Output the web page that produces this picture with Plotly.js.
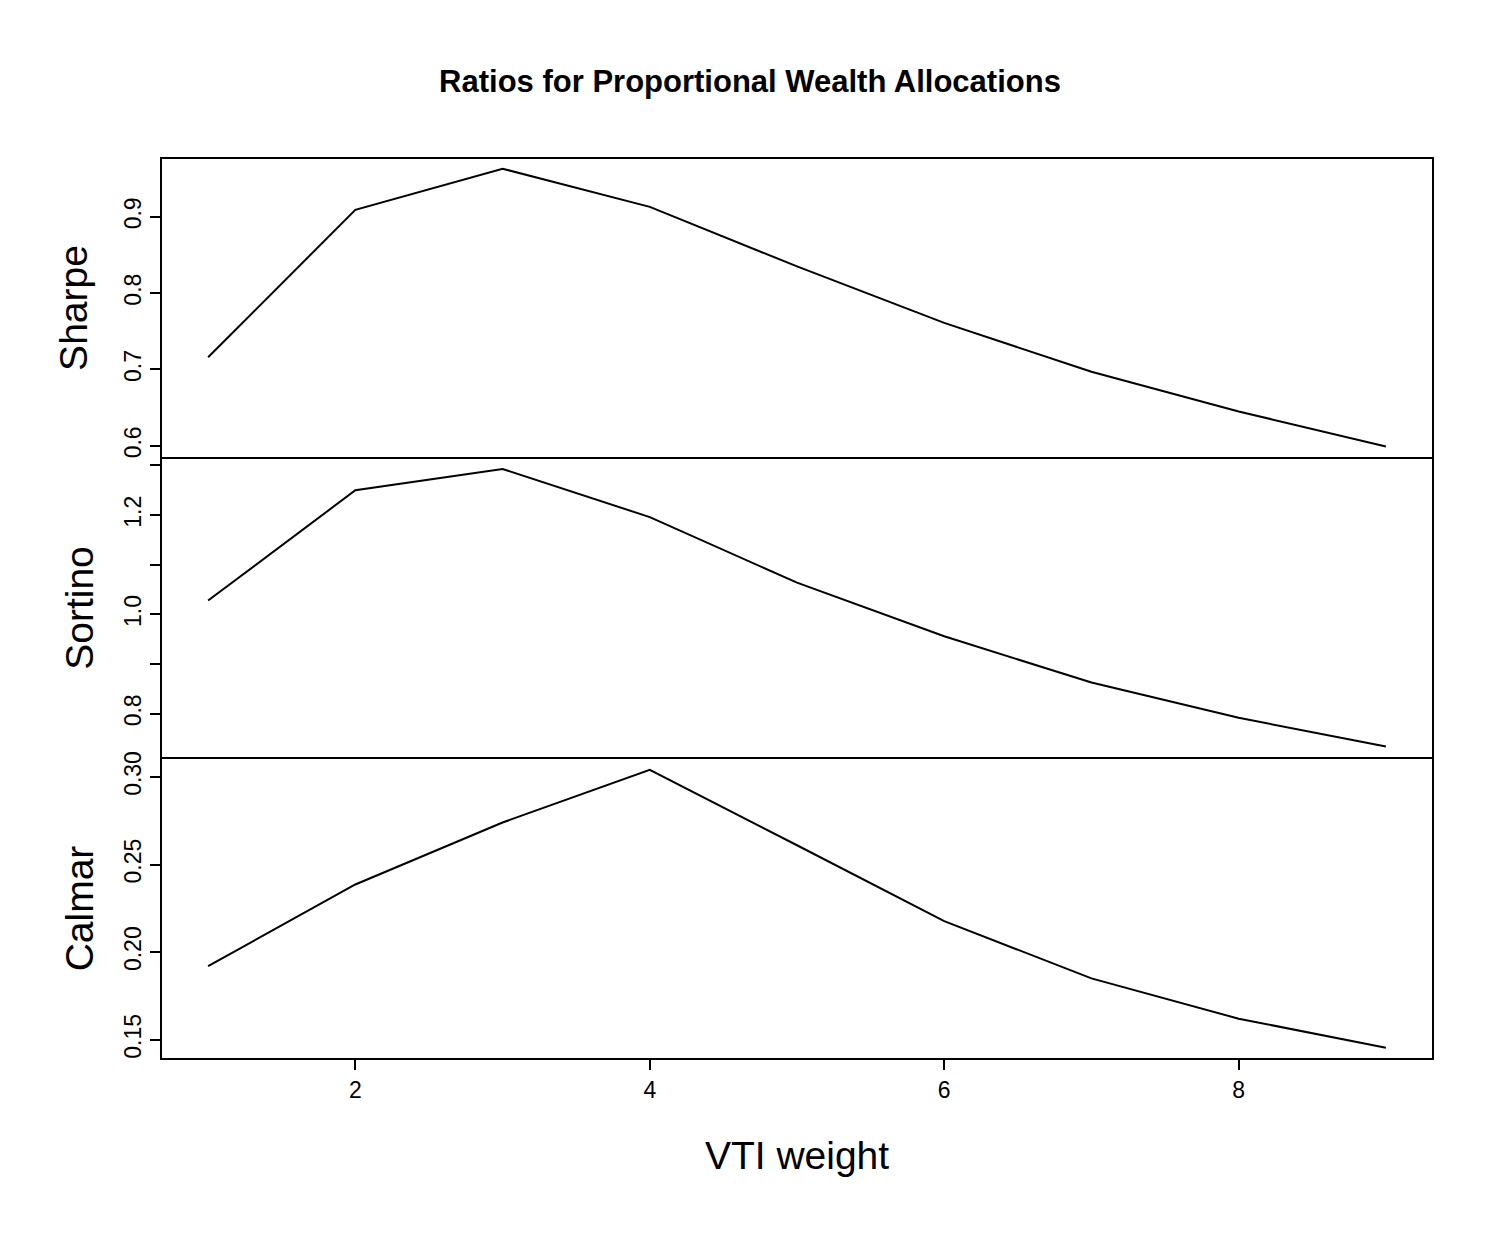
<!DOCTYPE html>
<html>
<head>
<script src="https://cdn.plot.ly/plotly-3.0.1.min.js"></script>
</head>
<body style="margin:0">
<div id="myDiv" style="width:1500px;height:1250px"></div>
<script>
var weights = [1, 2, 3, 4, 5, 6, 7, 8, 9];
var sharpe = [0.716, 0.909, 0.963, 0.913, 0.835, 0.761, 0.697, 0.645, 0.599];
var sortino = [1.028, 1.250, 1.293, 1.196, 1.064, 0.956, 0.863, 0.792, 0.734];
var calmar = [0.192, 0.2386, 0.274, 0.304, 0.261, 0.2177, 0.185, 0.162, 0.1454];

var line = {color: 'black', width: 2};
var data = [
  {x: weights, y: sharpe, yaxis: 'y', xaxis: 'x', mode: 'lines', line: line},
  {x: weights, y: sortino, yaxis: 'y2', xaxis: 'x', mode: 'lines', line: line},
  {x: weights, y: calmar, yaxis: 'y3', xaxis: 'x', mode: 'lines', line: line}
];

var fam = 'Liberation Sans, Arial';
var tickfont = {family: fam, size: 23, color: 'black'};
function yax(dom, range, dtick, title) {
  return {
    domain: dom, range: range, dtick: dtick, tick0: 0,
    ticks: 'outside', ticklen: 10, tickwidth: 1.5, tickcolor: 'black',
    tickangle: -90, tickfont: tickfont, showgrid: false, zeroline: false,
    showline: false, anchor: 'x',
    title: {text: title, font: {family: fam, size: 39, color: 'black'}, standoff: 14}
  };
}
var x0 = 161 / 1500, x1 = 1433 / 1500;
var d1 = [0.6336, 0.8736], d2 = [0.3936, 0.6336], d3 = [0.1528, 0.3936];
var layout = {
  width: 1500, height: 1250,
  margin: {l: 0, r: 0, t: 0, b: 0, autoexpand: false},
  paper_bgcolor: 'white', plot_bgcolor: 'white', showlegend: false,
  title: {text: '<b>Ratios for Proportional Wealth Allocations</b>', x: 0.5, xref: 'paper',
    y: 0.935, yref: 'paper', yanchor: 'middle',
    font: {family: fam, size: 31, color: 'black'}},
  xaxis: {
    domain: [x0, x1],
    range: [0.68, 9.32], dtick: 2, tick0: 0, ticks: 'outside', ticklen: 10, tickwidth: 1.5,
    tickcolor: 'black', tickfont: tickfont, showgrid: false, zeroline: false, anchor: 'y3',
    title: {text: 'VTI weight', font: {family: fam, size: 39, color: 'black'}, standoff: 40}
  },
  yaxis: yax(d1, [0.584, 0.977], 0.1, 'Sharpe'),
  yaxis2: yax(d2, [0.711, 1.315], 0.1, 'Sortino'),
  yaxis3: yax(d3, [0.139, 0.3108], 0.05, 'Calmar'),
  shapes: [d1, d2, d3].map(function (d) {
    return {type: 'rect', xref: 'paper', yref: 'paper', x0: x0, x1: x1, y0: d[0], y1: d[1],
      line: {color: 'black', width: 2}};
  })
};
layout.yaxis2.tickvals = [0.8, 0.9, 1.0, 1.1, 1.2, 1.3];
layout.yaxis2.ticktext = ['0.8', '', '1.0', '', '1.2', ''];
layout.yaxis3.tickformat = '.2f';
layout.yaxis.tickformat = '.1f';
layout.yaxis.title.standoff = 20;

Plotly.newPlot('myDiv', data, layout, {displayModeBar: false});
</script>
</body>
</html>
